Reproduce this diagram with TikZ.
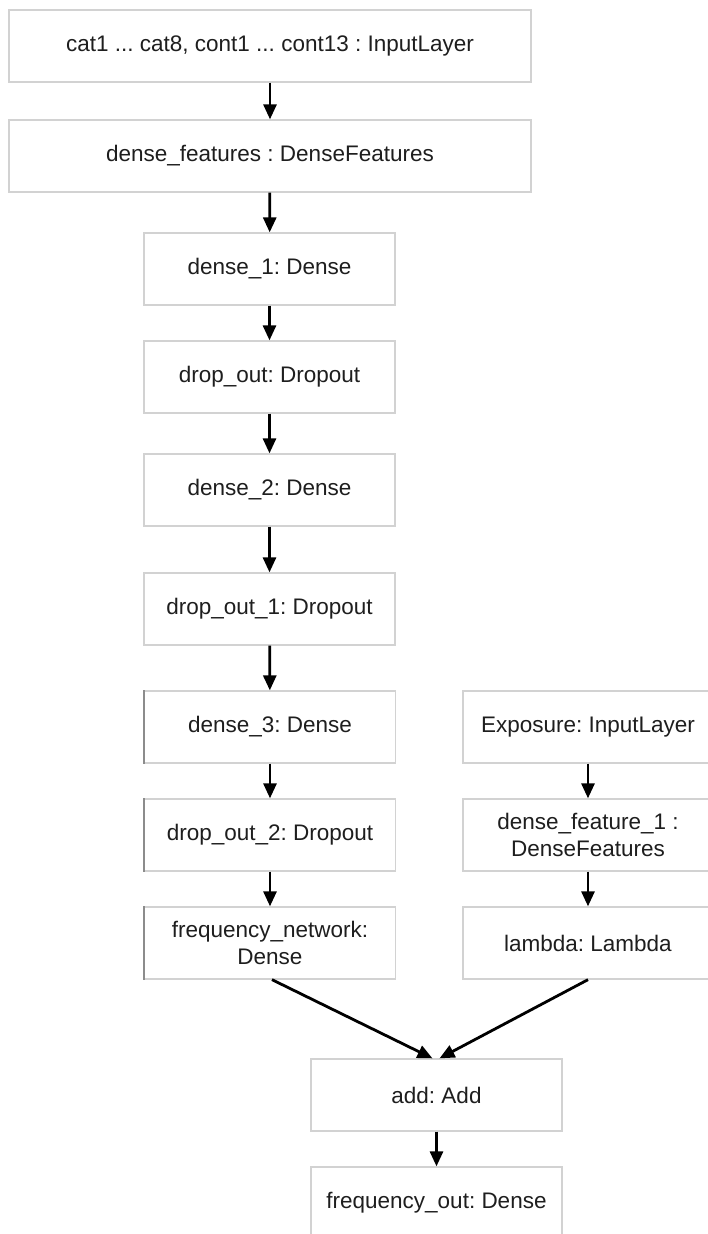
\documentclass[tikz,border=0pt]{standalone}
\usepackage{fontspec}
\setmainfont{Liberation Sans}
\usetikzlibrary{arrows.meta}
\definecolor{boxgray}{HTML}{D2D2D2}
\definecolor{edgegray}{HTML}{8C8C8C}
\definecolor{textgray}{HTML}{1E1E1E}
\frenchspacing
\begin{document}
\frenchspacing
\begin{tikzpicture}[x=1pt,y=-1pt,
  box/.style={draw=boxgray, line width=1.3pt, fill=white, minimum height=72pt,
    inner sep=0pt, text=textgray, font=\fontsize{22.5}{27}\selectfont, align=center},
  wide/.style={box, minimum width=522pt},
  mid/.style={box, minimum width=251pt},
  side/.style={box, minimum width=250pt},
  arr/.style={-{Triangle[width=13pt,length=15pt]}, line width=2.8pt, black},
  leftedge/.style={draw=edgegray, line width=1.3pt}]
\fill[white] (0,0) rectangle (708,1234);
\clip (0,0) rectangle (708,1234);
\node[wide] (in)  at (270,46)    {cat1 ... cat8, cont1 ... cont13 : InputLayer};
\node[wide] (df)  at (270,156)   {dense\_features : DenseFeatures};
\node[mid]  (d1)  at (269.5,269) {dense\_1: Dense};
\node[mid]  (do)  at (269.5,377) {drop\_out: Dropout};
\node[mid]  (d2)  at (269.5,490) {dense\_2: Dense};
\node[mid]  (do1) at (269.5,609) {drop\_out\_1: Dropout};
\node[mid]  (d3)  at (270,727)   {dense\_3: Dense};
\node[mid]  (do2) at (270,835)   {drop\_out\_2: Dropout};
\node[mid]  (fn)  at (270,943)   {frequency\_network:\\Dense};
\node[side] (ex)  at (588,727)   {Exposure: InputLayer};
\node[side] (dfe) at (588,835)   {dense\_feature\_1 :\\DenseFeatures};
\node[side] (lam) at (588,943)   {lambda: Lambda};
\node[mid]  (add) at (436.5,1095) {add: Add};
\node[mid]  (fo)  at (436.5,1203) {frequency\_out: Dense};
\draw[leftedge] (d3.north west) -- (d3.south west);
\draw[leftedge] (do2.north west) -- (do2.south west);
\draw[leftedge] (fn.north west) -- (fn.south west);
\draw[arr] (in) -- (df);
\draw[arr] (df) -- (d1);
\draw[arr] (d1) -- (do);
\draw[arr] (do) -- (d2);
\draw[arr] (d2) -- (do1);
\draw[arr] (do1) -- (d3);
\draw[arr] (d3) -- (do2);
\draw[arr] (do2) -- (fn);
\draw[arr] (ex) -- (dfe);
\draw[arr] (dfe) -- (lam);
\draw[arr] ([xshift=2pt]fn.south) -- ([xshift=-4pt]add.north);
\draw[arr] (lam.south) -- ([xshift=3pt]add.north);
\draw[arr] (add) -- (fo);
\end{tikzpicture}
\end{document}
